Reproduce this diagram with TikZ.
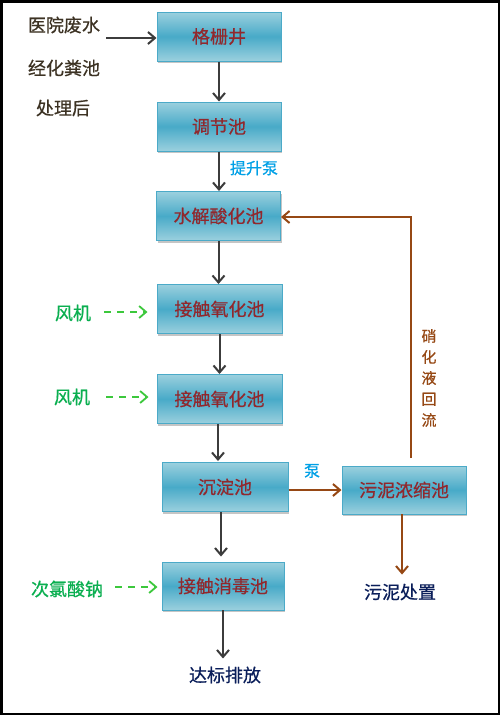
\documentclass[tikz,border=0pt]{standalone}
\usepackage{fontspec}
\newfontfamily\cjk{Noto Sans CJK SC}
\newfontfamily\cjkb[FakeBold=0.6]{Noto Sans CJK SC}
\usetikzlibrary{arrows.meta,shadows}
\definecolor{boxtext}{RGB}{145,40,45}
\definecolor{boxlight}{RGB}{155,208,222}
\definecolor{boxmid}{RGB}{72,170,200}
\definecolor{boxline}{RGB}{75,170,200}
\definecolor{darkarrow}{RGB}{60,60,60}
\definecolor{brownc}{RGB}{150,72,20}
\definecolor{greentext}{RGB}{10,175,80}
\definecolor{greenarrow}{RGB}{60,200,60}
\definecolor{bluetext}{RGB}{0,160,230}
\definecolor{navytext}{RGB}{10,30,90}
\definecolor{darktext}{RGB}{60,50,35}
\pgfdeclareverticalshading{boxshade}{100bp}{color(0bp)=(boxlight); color(25bp)=(boxlight); color(50bp)=(boxmid); color(75bp)=(boxlight); color(100bp)=(boxlight)}
\tikzset{
  x=1pt, y=-1pt,
  procbox/.style={rectangle, draw=boxline, line width=1pt,
    minimum width=124pt, minimum height=49pt, inner sep=0pt,
    shading=boxshade, shade,
    text=boxtext, font=\cjkb\fontsize{18}{20}\selectfont,
    drop shadow={shadow xshift=1.2pt, shadow yshift=-2pt, fill=black!45, opacity=0.5}},
  lbl/.style={inner sep=0pt, font=\cjkb\fontsize{18}{20}\selectfont},
  smalllbl/.style={inner sep=0pt, font=\cjkb\fontsize{16}{18}\selectfont, text=bluetext},
  tip/.style={-{Straight Barb[length=7pt,width=12pt]}},
  flow/.style={tip, draw=darkarrow, line width=2pt},
  brownflow/.style={tip, draw=brownc, line width=2pt},
  airflow/.style={tip, draw=greenarrow, line width=1.8pt, dash pattern=on 7pt off 6pt},
}
\begin{document}
\begin{tikzpicture}
\useasboundingbox (0,0) rectangle (500,715);
\fill[white] (0,0) rectangle (500,715);
\draw[black, line width=5pt] (0,0) rectangle (500,715);

% process boxes
\node[procbox] (g1) at (219,36.5) {格栅井};
\node[procbox] (g2) at (219,126.5) {调节池};
\node[procbox] (g3) at (218.5,216) {水解酸化池};
\node[procbox, minimum width=125pt] (g4) at (219.5,309) {接触氧化池};
\node[procbox, minimum width=125pt] (g5) at (219.5,399) {接触氧化池};
\node[procbox, minimum width=126pt] (g6) at (225,487) {沉淀池};
\node[procbox, minimum width=122pt, minimum height=48pt] (g7) at (223,586) {接触消毒池};
\node[procbox, minimum height=48pt] (g8) at (404,490) {污泥浓缩池};

% input labels
\node[lbl, text=darktext] (in1) at (64,25) {医院废水};
\node[lbl, text=darktext] (in2) at (64,68) {经化粪池};
\node[lbl, text=darktext] (in3) at (63,108) {处理后};
\coordinate (inA) at (106,38);
\draw[flow] (inA) -- (inA -| g1.west);

\node[lbl, text=greentext] (f1) at (73,313) {风机};
\node[lbl, text=greentext] (f2) at (72,397) {风机};
\node[lbl, text=greentext] (f3) at (67,589) {次氯酸钠};
\coordinate (fa1) at (104,312);
\coordinate (fa2) at (106,397);
\coordinate (fa3) at (115,587);
\draw[airflow, shorten >=9pt] (fa1) -- (fa1 -| g4.west);
\draw[airflow, shorten >=8pt] (fa2) -- (fa2 -| g5.west);
\draw[airflow, shorten >=4pt] (fa3) -- (fa3 -| g7.west);

% main flow
\draw[flow] (g1.south) -- (g2.north);
\draw[flow] (g2.south) -- (g2.south |- g3.north);
\node[smalllbl] (pump1) at (254,168) {提升泵};
\draw[flow] (g3.south) -- (g3.south |- g4.north);
\draw[flow] (g4.south) -- (g4.south |- g5.north);
\coordinate (c5) at (218,424);
\draw[flow, shorten >=1pt] (c5) -- (c5 |- g6.north);
\coordinate (c6) at (221,512);
\draw[flow, shorten >=5pt] (c6) -- (c6 |- g7.north);
\node[lbl, text=navytext] (out1) at (225,675) {达标排放};
\coordinate (c7) at (223,610);
\draw[flow, shorten >=8pt] (c7) -- (c7 |- out1.north);

% sludge
\node[smalllbl] (pump2) at (312,471) {泵};
\draw[brownflow] (g6.east |- 0,490) -- (g8.west);
\node[lbl, text=navytext] (out2) at (400,592) {污泥处置};
\coordinate (c8) at (402,514);
\draw[brownflow, shorten >=9pt] (c8) -- (c8 |- out2.north);

% recycle
\coordinate (r0) at (411,458);
\coordinate (r1) at (411,217);
\draw[brownflow] (r0) -- (r1) -- (r1 -| g3.east);
\node[inner sep=0pt, text=brownc, align=center,
      font=\cjkb\fontsize{15}{21}\selectfont] (rc) at (429,378) {硝\\化\\液\\回\\流};
\end{tikzpicture}
\end{document}
